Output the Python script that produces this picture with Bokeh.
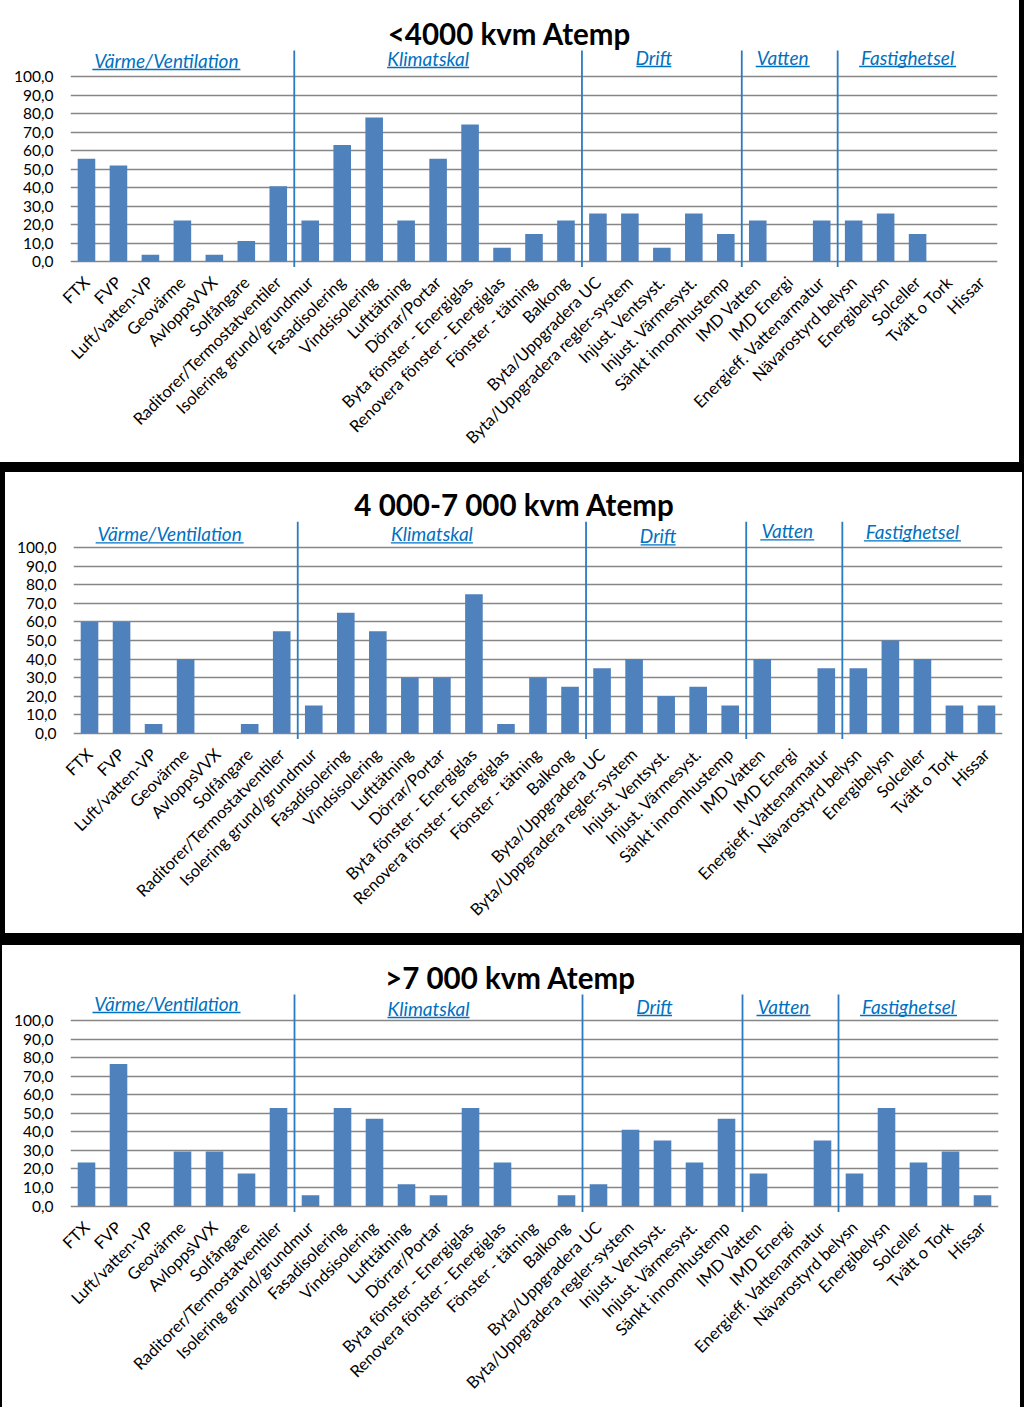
import math
from bokeh.plotting import figure
from bokeh.models import FactorRange, Range1d, FixedTicker, ColumnDataSource, Spacer
from bokeh.layouts import column, row
from bokeh.embed import file_html
from bokeh.resources import INLINE
from bokeh.core.properties import value

# ---------------- data ----------------
categories = [
    "FTX", "FVP", "Luft/vatten-VP", "Geovärme", "AvloppsVVX", "Solfångare",
    "Raditorer/Termostatventiler",
    "Isolering grund/grundmur", "Fasadisolering", "Vindsisolering", "Lufttätning",
    "Dörrar/Portar", "Byta fönster - Energiglas", "Renovera fönster - Energiglas",
    "Fönster - tätning", "Balkong",
    "Byta/Uppgradera UC", "Byta/Uppgradera regler-system", "Injust. Ventsyst.",
    "Injust. Värmesyst.", "Sänkt innomhustemp",
    "IMD Vatten", "IMD Energi", "Energieff. Vattenarmatur",
    "Nävarostyrd belysn", "Energibelysn", "Solceller", "Tvätt o Tork", "Hissar",
]
group_names = ["Värme/Ventilation", "Klimatskal", "Drift", "Vatten", "Fastighetsel"]
group_sizes = [7, 9, 5, 3, 5]

titles = ["<4000 kvm Atemp", "4 000-7 000 kvm Atemp", ">7 000 kvm Atemp"]

values_small = [55.6, 51.9, 3.7, 22.2, 3.7, 11.1, 40.7,
                22.2, 63.0, 77.8, 22.2, 55.6, 74.1, 7.4, 14.8, 22.2,
                25.9, 25.9, 7.4, 25.9, 14.8,
                22.2, 0.0, 22.2,
                22.2, 25.9, 14.8, 0.0, 0.0]
values_mid = [60.0, 60.0, 5.0, 40.0, 0.0, 5.0, 55.0,
              15.0, 65.0, 55.0, 30.0, 30.0, 75.0, 5.0, 30.0, 25.0,
              35.0, 40.0, 20.0, 25.0, 15.0,
              40.0, 0.0, 35.0,
              35.0, 50.0, 40.0, 15.0, 15.0]
values_large = [23.5, 76.5, 0.0, 29.4, 29.4, 17.6, 52.9,
                5.9, 52.9, 47.1, 11.8, 5.9, 52.9, 23.5, 0.0, 5.9,
                11.8, 41.2, 35.3, 23.5, 47.1,
                17.6, 0.0, 35.3,
                17.6, 52.9, 23.5, 29.4, 5.9]
series = [values_small, values_mid, values_large]

y_ticks = [0, 10, 20, 30, 40, 50, 60, 70, 80, 90, 100]
y_tick_labels = ["0,0", "10,0", "20,0", "30,0", "40,0", "50,0",
                 "60,0", "70,0", "80,0", "90,0", "100,0"]

# ---------------- layout / style ----------------
BAR = "#4F81BD"
GRID = "#868686"
BLUE_TXT = "#0070C0"
BLUE_LINE = "#2A7BC4"
FONT = "Lato"
PAGE_W = 1024

# page geometry of each panel (pixels in page)
panels = [
    dict(top=0, h=462, lx=0, rx=1019, x0=70, x1=997, y0=261.0, y100=76.0, tcx=509,
         goff=[16, 18, 19, 19, 19]),
    dict(top=472, h=461, lx=5, rx=1022, x0=73, x1=1002, y0=732.7, y100=547.3, tcx=514,
         goff=[14, 14, 12, 17, 16]),
    dict(top=945, h=462, lx=2, rx=1020, x0=70, x1=998, y0=1205.6, y100=1020.0, tcx=510,
         goff=[17, 12, 14, 14, 14]),
]
label_w_px = [148, 82, 35, 54, 97]
label_dx_px = [-16, -10, -8, -7, -10]


def black(w, h):
    return Spacer(width=w, height=h, styles={"background-color": "black"})


rows = []
for k, (pg, vals, title) in enumerate(zip(panels, series, titles)):
    scale = (pg["y0"] - pg["y100"]) / 100.0
    ft = round(pg["y100"] - 60)
    fb = round(pg["y0"] + 7)
    y_end = (pg["y0"] - ft) / scale
    y_start = (pg["y0"] - fb) / scale
    top_b = ft - pg["top"]
    fh = fb - ft
    bot_b = pg["h"] - top_b - fh
    fw = pg["rx"] - pg["lx"]
    left_b = pg["x0"] - pg["lx"]
    right_b = pg["rx"] - pg["x1"]
    catw = (pg["x1"] - pg["x0"]) / len(categories)

    p = figure(x_range=FactorRange(*categories), y_range=Range1d(y_start, y_end),
               width=fw, height=pg["h"], output_backend="svg",
               toolbar_location=None,
               min_border_top=top_b, min_border_bottom=bot_b,
               min_border_left=left_b, min_border_right=right_b,
               background_fill_color="white", border_fill_color="white",
               outline_line_color=None)

    src = ColumnDataSource(dict(x=categories, top=vals))
    p.vbar(x="x", top="top", width=0.55, source=src, fill_color=BAR,
           line_color=None)

    # axes
    p.yaxis.ticker = FixedTicker(ticks=y_ticks)
    p.yaxis.major_label_overrides = dict(zip(y_ticks, y_tick_labels))
    p.yaxis.axis_line_color = None
    p.yaxis.major_tick_line_color = None
    p.yaxis.minor_tick_line_color = None
    p.yaxis.major_tick_out = 0
    p.yaxis.major_label_standoff = 17
    p.yaxis.major_label_text_font = FONT
    p.yaxis.major_label_text_font_size = "15.5px"
    p.yaxis.major_label_text_color = "black"

    p.xaxis.axis_line_color = None
    p.xaxis.major_tick_line_color = None
    p.xaxis.minor_tick_line_color = None
    p.xaxis.major_tick_out = 0
    p.xaxis.major_label_standoff = 11
    p.xaxis.major_label_orientation = math.pi / 4
    p.xaxis.major_label_text_font = FONT
    p.xaxis.major_label_text_font_size = "16.5px"
    p.xaxis.major_label_text_color = "black"

    p.ygrid.ticker = FixedTicker(ticks=y_ticks)
    p.ygrid.grid_line_color = GRID
    p.ygrid.grid_line_width = 1.4
    p.xgrid.grid_line_color = None

    # group separators
    bounds = []
    acc = 0
    for s in group_sizes[:-1]:
        acc += s
        bounds.append(acc)
    sep_top = 100 + 26 / scale
    sep_bot = y_start + 1.5 / scale
    p.segment(x0=bounds, y0=[sep_bot] * len(bounds), x1=bounds,
              y1=[sep_top] * len(bounds), line_color=BLUE_LINE, line_width=1.8)

    # group labels with underline
    starts = [0] + bounds
    gx, gy, ux0, ux1, uy = [], [], [], [], []
    for i, (st, sz) in enumerate(zip(starts, group_sizes)):
        cx = st + sz / 2.0 + label_dx_px[i] / catw
        cy = 100 + pg["goff"][i] / scale
        gx.append(cx)
        gy.append(cy)
        half = label_w_px[i] / 2.0 / catw
        ux0.append(cx - half)
        ux1.append(cx + half)
        uy.append(100 + (pg["goff"][i] - 9) / scale)
    p.text(x=gx, y=gy, text=group_names, text_font=value(FONT),
           text_font_style="italic", text_font_size="19px", text_color=BLUE_TXT,
           text_align="center", text_baseline="middle")
    p.segment(x0=ux0, y0=uy, x1=ux1, y1=uy, line_color=BLUE_TXT, line_width=1.3)

    # title
    tx = (pg["tcx"] - pg["x0"]) / catw
    ty = 100 + 43 / scale
    p.text(x=[tx], y=[ty], text=[title], text_font=value(FONT),
           text_font_style="bold", text_font_size="29.5px", text_color="black",
           text_align="center", text_baseline="middle")

    kids = []
    if pg["lx"] > 0:
        kids.append(black(pg["lx"], pg["h"]))
    kids.append(p)
    if PAGE_W - pg["rx"] > 0:
        kids.append(black(PAGE_W - pg["rx"], pg["h"]))
    rows.append(row(*kids, spacing=0))

layout = column(rows[0], black(PAGE_W, panels[1]["top"] - panels[0]["top"] - panels[0]["h"]),
                rows[1], black(PAGE_W, panels[2]["top"] - panels[1]["top"] - panels[1]["h"]),
                rows[2], spacing=0)

open("out.html", "w").write(file_html(layout, INLINE))
